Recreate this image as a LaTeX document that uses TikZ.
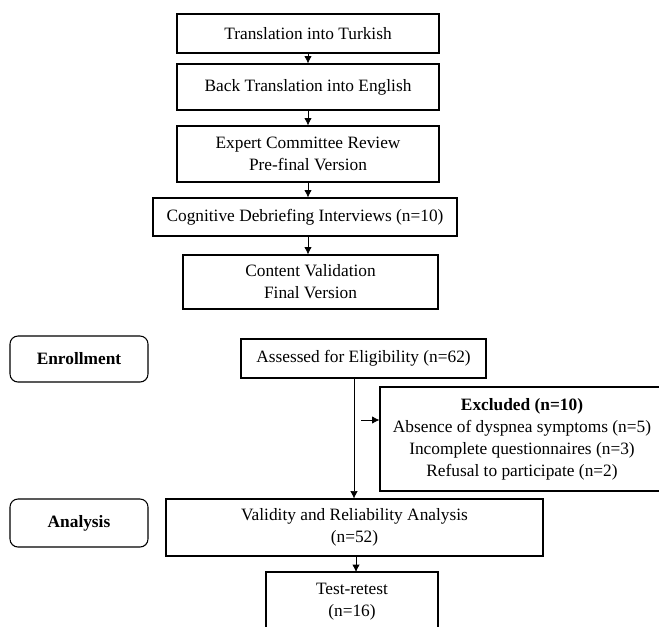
\documentclass[tikz,border=0pt]{standalone}
\usepackage{fontspec}
\setmainfont{Liberation Serif}
\usetikzlibrary{arrows.meta}

\newcommand{\pxu}{0.75pt}
\tikzset{
    stepbox/.style={draw, line width=0.8pt, align=center, inner sep=0pt,
        font=\fontsize{13}{16.5}\selectfont},
    sidebox/.style={stepbox, rounded corners=6pt, font=\fontsize{13}{16.5}\selectfont\bfseries},
    boxsize/.style 2 args={minimum width=#1*\pxu, minimum height=#2*\pxu},
    flow/.style={-{Latex[length=5.5pt,width=5.5pt]}, line width=0.6pt},
}

\begin{document}
\begin{tikzpicture}[x=\pxu, y=-\pxu]
        \clip (0,0) rectangle (659,626);

        % translation steps
        \node[stepbox, boxsize={262}{39}] (turkish) at(308, 33.5){Translation into Turkish};
        \node[stepbox, boxsize={262}{46}] (back) at(308, 87){Back Translation into English};
        \node[stepbox, boxsize={262}{56}] (expert) at(308, 154){Expert Committee Review\\Pre-final Version};
        \node[stepbox, boxsize={304}{38}] (cognitive) at(305, 217){Cognitive Debriefing Interviews (n=10)};
        \node[stepbox, boxsize={255}{54}] (content) at(310.5, 282){Content Validation\\Final Version};

        \draw[flow] (turkish.south) -- (turkish.south |- back.north);
        \draw[flow] (back.south) -- (back.south |- expert.north);
        \draw[flow] (expert.south) -- (expert.south |- cognitive.north);
        \draw[flow] (expert.south |- cognitive.south) -- (expert.south |- content.north);

        % study side labels
        \node[sidebox, boxsize={138}{46}] (enroll) at(79, 359){Enrollment};
        \node[sidebox, boxsize={138}{48}] (analysis) at(79, 523){Analysis};

        % participants
        \node[stepbox, boxsize={245}{39}] (assessed) at(363.5, 358.5){Assessed for Eligibility (n=62)};
        \node[stepbox, boxsize={284}{104}] (excluded) at(522, 439){\textbf{Excluded (n=10)}\\Absence of dyspnea symptoms (n=5)\\Incomplete questionnaires (n=3)\\Refusal to participate (n=2)};
        \node[stepbox, boxsize={377}{57}] (validity) at(354.5, 527.5){Validity and Reliability Analysis\\(n=52)};
        \node[stepbox, boxsize={172}{60}] (retest) at(352, 602){Test-retest\\(n=16)};

        \coordinate (trunk) at(354, 378);
        \coordinate (exstart) at(361, 420);
        \draw[flow, line width=0.4pt] (trunk) -- (trunk |- validity.north);
        \draw[flow] (exstart) -- (exstart -| excluded.west);
        \draw[flow] (356, 556) -- (356, 572);
\end{tikzpicture}
\end{document}
